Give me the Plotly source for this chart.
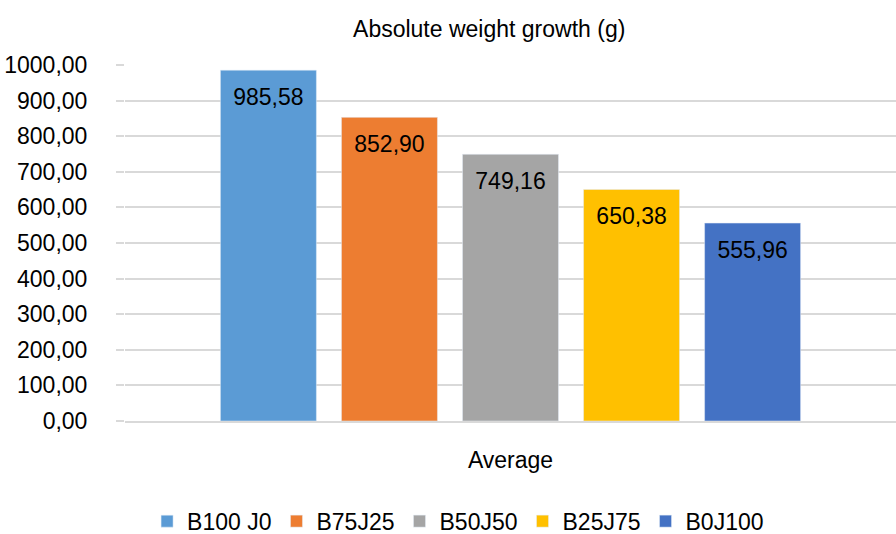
import plotly.graph_objects as go

categories = ["Average"]
series_names = ["B100 J0", "B75J25", "B50J50", "B25J75", "B0J100"]
series_values = [985.58, 852.90, 749.16, 650.38, 555.96]
colors = ["#5B9BD5", "#ED7D31", "#A5A5A5", "#FFC000", "#4472C4"]
y_ticks = [0, 100, 200, 300, 400, 500, 600, 700, 800, 900, 1000]

FONT = "Liberation Sans, Arial"

fig = go.Figure()
for name, val, col in zip(series_names, series_values, colors):
    fig.add_trace(go.Bar(
        x=categories, y=[val], name=name, marker_color=col,
        text=["<span style='font-size:2px'> </span><br>" + f"{val:.2f}".replace(".", ",")],
        textposition="inside", insidetextanchor="end", textangle=0,
        textfont=dict(size=23, color="#000000", family=FONT),
    ))

fig.update_layout(
    width=896, height=534,
    margin=dict(l=125, r=0, t=65, b=113, autoexpand=False),
    paper_bgcolor="white", plot_bgcolor="white",
    barmode="group", bargap=0.215, bargroupgap=0.207,
    separators=",.",
    font=dict(family=FONT, size=23, color="#000000"),
    title=dict(text="Absolute weight growth (g)", x=0.546, xanchor="center",
               y=0.946, yanchor="middle", font=dict(size=23)),
    legend=dict(orientation="h", x=0.432, xanchor="center", y=-0.221, yanchor="top",
                font=dict(size=23), itemwidth=30, traceorder="normal",
                tracegroupgap=0),
    uniformtext=dict(mode=False),
)
fig.update_yaxes(range=[0, 1000], tickvals=y_ticks, tickformat=".2f",
                 showgrid=True, gridcolor="#D9D9D9", gridwidth=1.5,
                 ticks="outside", ticklen=8, tickcolor="#D9D9D9", tickwidth=1.5,
                 ticklabelstandoff=24, tickfont=dict(size=23),
                 zeroline=False, showline=False)
fig.update_xaxes(showline=True, linecolor="#D9D9D9", linewidth=1.5,
                 tickfont=dict(size=23), ticklabelstandoff=18)

fig.write_html("out.html", config={"displayModeBar": False},
               post_script="document.body.style.margin='0';document.body.style.overflow='hidden';")
